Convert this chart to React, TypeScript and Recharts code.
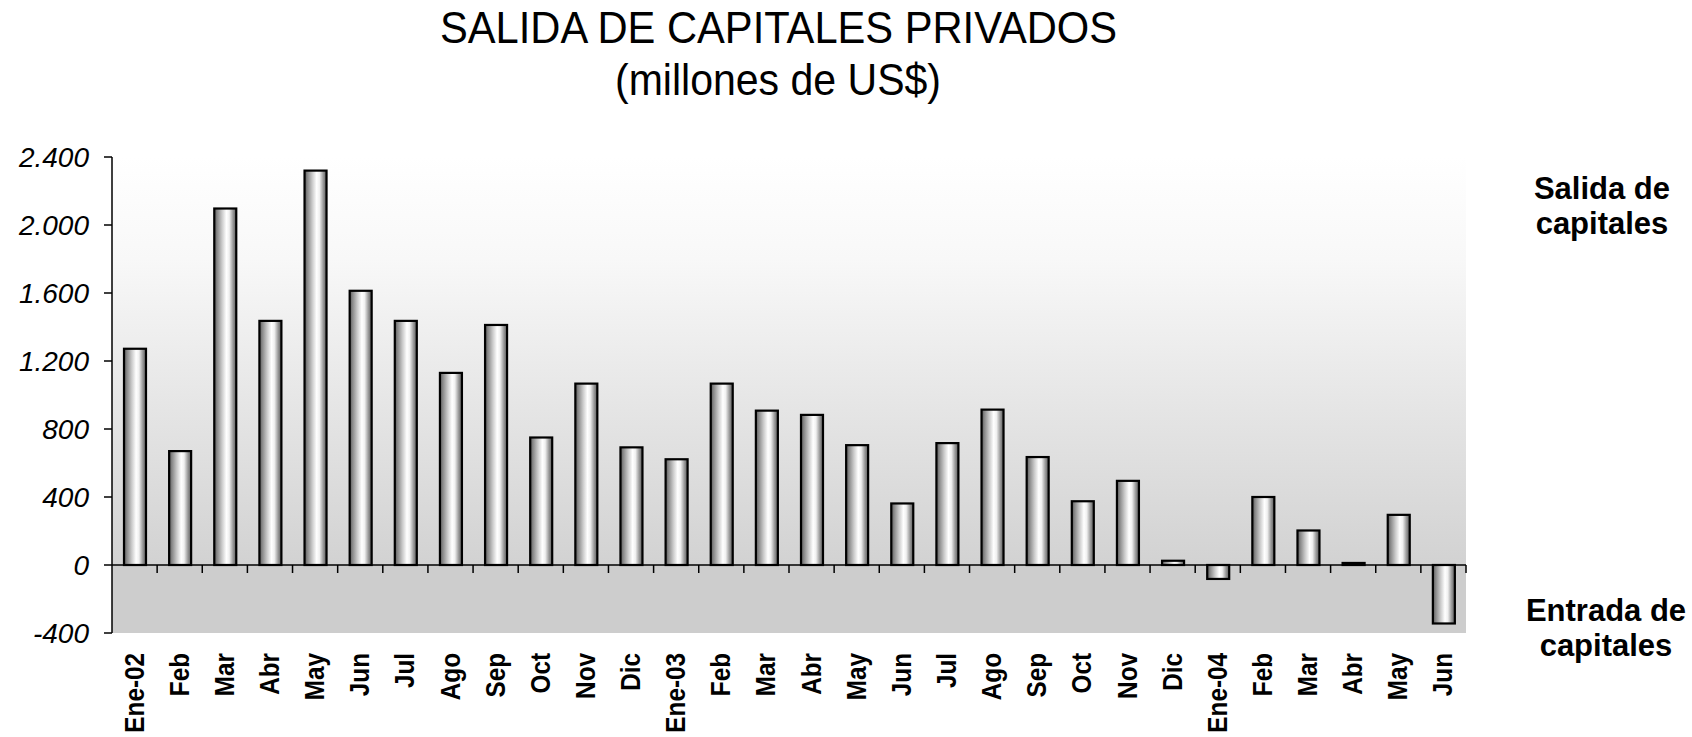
import React from "react";
import { BarChart, Bar, XAxis, YAxis, ReferenceArea, ReferenceLine } from "recharts";

const months: string[] = [
  "Ene-02", "Feb", "Mar", "Abr", "May", "Jun", "Jul", "Ago", "Sep", "Oct", "Nov", "Dic",
  "Ene-03", "Feb", "Mar", "Abr", "May", "Jun", "Jul", "Ago", "Sep", "Oct", "Nov", "Dic",
  "Ene-04", "Feb", "Mar", "Abr", "May", "Jun",
];

const salidas: number[] = [
  1272, 670, 2097, 1436, 2320, 1613, 1436, 1130, 1412, 750, 1067, 692,
  622, 1067, 908, 883, 705, 362, 717, 914, 635, 375, 495, 25,
  -82, 400, 203, 12, 295, -344,
];

const yTicks: number[] = [-400, 0, 400, 800, 1200, 1600, 2000, 2400];

const titleLine1 = "SALIDA DE CAPITALES PRIVADOS";
const titleLine2 = "(millones de US$)";
const topNote: string[] = ["Salida de", "capitales"];
const bottomNote: string[] = ["Entrada de", "capitales"];

const data = months.map((m, i) => ({ month: m, value: salidas[i] }));

const fmt = (v: number) => {
  const s = Math.abs(v).toString().replace(/\B(?=(\d{3})+(?!\d))/g, ".");
  return v < 0 ? "-" + s : s;
};

const FONT = "'Liberation Sans', Arial, Helvetica, sans-serif";

const BarShape = (props: any) => {
  const { x, y, width, height } = props;
  if (x == null || y == null) return null;
  const y0 = Math.min(y, y + height);
  const h = Math.max(Math.abs(height), 0.5);
  return (
    <rect
      x={x}
      y={y0}
      width={width}
      height={h}
      fill="url(#barGrad)"
      stroke="#000"
      strokeWidth={2.2}
    />
  );
};

const XTick = (props: any) => {
  const { x, y, payload } = props;
  return (
    <g transform={`translate(${x + 9},${y + 20}) rotate(-90) scale(0.9,1)`}>
      <text
        x={0}
        y={0}
        textAnchor="end"
        fontFamily={FONT}
        fontWeight="bold"
        fontSize={27}
        fill="#000"
      >
        {payload.value}
      </text>
    </g>
  );
};

const ZeroLine = (props: any) => {
  const { x1, x2, y1 } = props;
  if (x1 == null) return null;
  const n = months.length;
  const step = (x2 - x1) / n;
  const ticks = [];
  for (let i = 1; i <= n; i++) {
    const tx = x1 + i * step;
    ticks.push(<line key={i} x1={tx} x2={tx} y1={y1} y2={y1 + 8} stroke="#000" strokeWidth={1.5} />);
  }
  return (
    <g>
      <line x1={x1} x2={x2} y1={y1} y2={y1} stroke="#000" strokeWidth={1.5} />
      {ticks}
    </g>
  );
};

export default function App() {
  return (
    <div style={{ position: "absolute", left: 0, top: 0, width: 1692, height: 737, background: "#fff" }}>
      <BarChart
        width={1692}
        height={737}
        data={data}
        margin={{ top: 157, right: 226, left: 12, bottom: 4 }}
        barSize={22}
      >
        <defs>
          <linearGradient id="barGrad" x1="0" y1="0" x2="1" y2="0">
            <stop offset="0%" stopColor="#555555" />
            <stop offset="12%" stopColor="#858585" />
            <stop offset="35%" stopColor="#cacaca" />
            <stop offset="55%" stopColor="#ffffff" />
            <stop offset="68%" stopColor="#f0f0f0" />
            <stop offset="85%" stopColor="#9a9a9a" />
            <stop offset="100%" stopColor="#5a5a5a" />
          </linearGradient>
          <linearGradient id="bgGrad" x1="0" y1="0" x2="0" y2="1">
            <stop offset="0%" stopColor="#ffffff" />
            <stop offset="25%" stopColor="#f8f8f8" />
            <stop offset="60%" stopColor="#e6e6e6" />
            <stop offset="100%" stopColor="#d2d2d2" />
          </linearGradient>
        </defs>
        <ReferenceArea y1={0} y2={2400} fill="url(#bgGrad)" fillOpacity={1} stroke="none" />
        <ReferenceArea y1={-400} y2={0} fill="#cdcdcd" fillOpacity={1} stroke="none" />
        <XAxis
          dataKey="month"
          interval={0}
          axisLine={false}
          tickLine={false}
          tickSize={0}
          tickMargin={0}
          height={100}
          tick={<XTick />}
        />
        <YAxis
          type="number"
          domain={[-400, 2400]}
          ticks={yTicks}
          interval={0}
          width={100}
          tickFormatter={fmt}
          axisLine={{ stroke: "#000", strokeWidth: 1.5 }}
          tickLine={{ stroke: "#000", strokeWidth: 1.5 }}
          tickSize={8}
          tickMargin={15}
          tick={{ fontFamily: FONT, fontStyle: "italic", fontSize: 28, fill: "#000" }}
        />
        <Bar dataKey="value" shape={<BarShape />} isAnimationActive={false} />
        <ReferenceLine y={0} stroke="#000" shape={(p: any) => <ZeroLine {...p} />} />
      </BarChart>
      <svg
        width={1692}
        height={737}
        style={{ position: "absolute", left: 0, top: 0, pointerEvents: "none" }}
      >
        <text x={778.5} y={43} textAnchor="middle" fontFamily={FONT} fontSize={44} fill="#000" textLength={677} lengthAdjust="spacingAndGlyphs">
          {titleLine1}
        </text>
        <text x={778} y={95} textAnchor="middle" fontFamily={FONT} fontSize={44} fill="#000" textLength={326} lengthAdjust="spacingAndGlyphs">
          {titleLine2}
        </text>
        {topNote.map((t, i) => (
          <text key={i} x={1602} y={199 + i * 35} textAnchor="middle" fontFamily={FONT} fontWeight="bold" fontSize={31} fill="#000">
            {t}
          </text>
        ))}
        {bottomNote.map((t, i) => (
          <text key={i} x={1606} y={621 + i * 35} textAnchor="middle" fontFamily={FONT} fontWeight="bold" fontSize={31} fill="#000">
            {t}
          </text>
        ))}
      </svg>
    </div>
  );
}
